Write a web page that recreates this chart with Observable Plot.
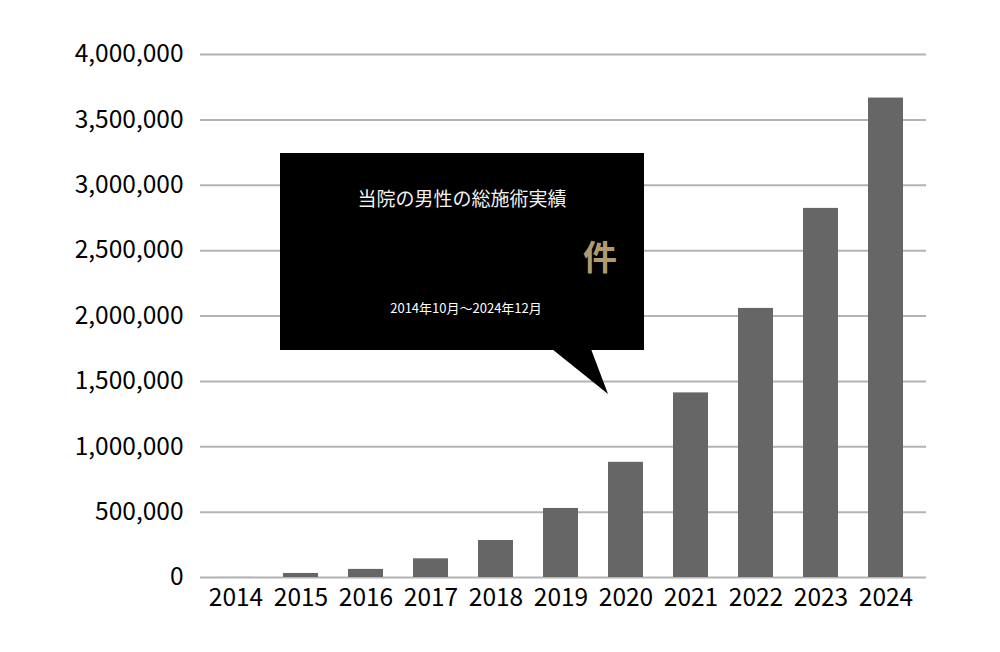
<!DOCTYPE html>
<html>
<head>
<meta charset="utf-8">
<script src="https://cdn.jsdelivr.net/npm/d3@7"></script>
<script src="https://cdn.jsdelivr.net/npm/@observablehq/plot@0.6"></script>
<style>
  html, body { margin: 0; padding: 0; background: #fff; }
  #wrap { position: relative; width: 1000px; height: 652px; font-family: "Noto Sans CJK JP", "Noto Sans", sans-serif; }
  #callout { position: absolute; left: 280px; top: 153px; width: 364px; height: 197px; background: #000; color: #fff; }
  #callout div { line-height: 1; white-space: nowrap; }
  #callout .t1 { position: absolute; left: 0; right: 0; top: 35px; text-align: center; font-size: 19px; font-weight: 400; color: #f2f2f2; }
  #callout .unit { position: absolute; left: 303px; top: 86px; font-size: 34px; font-weight: bold; color: #b09a6e; }
  #callout .t2 { position: absolute; left: 8px; right: 0; top: 148px; text-align: center; font-size: 13px; }
  #tail { position: absolute; left: 0; top: 0; pointer-events: none; }
</style>
</head>
<body>
<div id="wrap">
  <div id="chart"></div>
  <div id="callout">
    <div class="t1">当院の男性の総施術実績</div>
    <div class="unit">件</div>
    <div class="t2">2014年10月～2024年12月</div>
  </div>
  <svg id="tail" width="1000" height="652"><polygon points="552,349 591,349 608,394" fill="#000"/></svg>
</div>
<script>
const years = ["2014","2015","2016","2017","2018","2019","2020","2021","2022","2023","2024"];
const counts = [500, 31000, 62000, 143000, 283000, 528000, 881000, 1412000, 2058000, 2823000, 3667000];
const yTicks = [0, 500000, 1000000, 1500000, 2000000, 2500000, 3000000, 3500000, 4000000];

const data = years.map((y, i) => ({year: y, value: counts[i]}));

const chart = Plot.plot({
  width: 1000,
  height: 652,
  marginLeft: 200,
  marginRight: 79,
  marginTop: 54,
  marginBottom: 75,
  style: {fontFamily: '"Noto Sans CJK JP", "Noto Sans", sans-serif', fontSize: "24px", color: "#000", background: "transparent"},
  x: {domain: years, paddingInner: 0.466, paddingOuter: 0.233, label: null},
  y: {domain: [0, 4000000], label: null},
  marks: [
    Plot.ruleY(yTicks, {stroke: "#b3b3b3", strokeWidth: 2, strokeOpacity: 1, insetRight: -5}),
    Plot.barY(data, {x: "year", y: "value", fill: "#666666"}),
    Plot.axisY({ticks: yTicks, tickSize: 0, tickPadding: 17, tickFormat: d => d3.format(",")(d), fontSize: 24.5, fill: "#000"}),
    Plot.axisX({tickSize: 0, tickPadding: 11, fontSize: 24.5, fill: "#000", style: {letterSpacing: "1px"}})
  ]
});
document.getElementById("chart").appendChild(chart);
</script>
</body>
</html>
